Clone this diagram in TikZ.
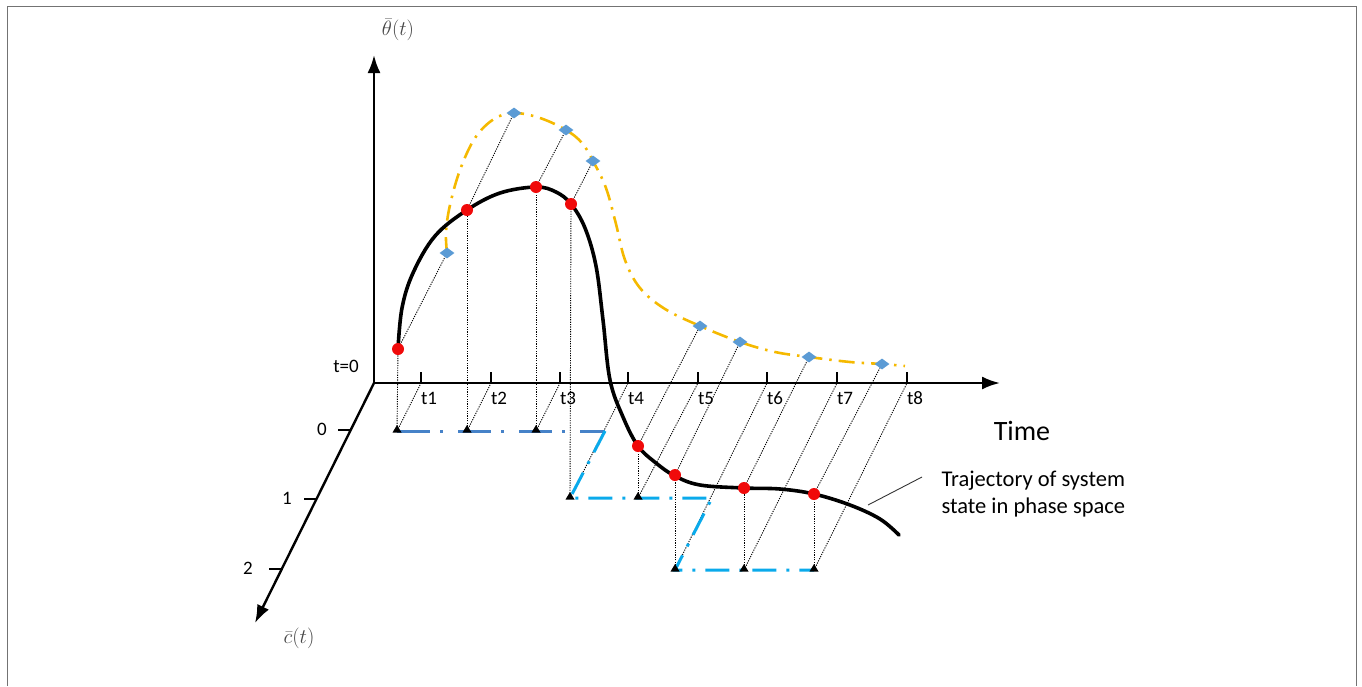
\documentclass[tikz,border=0pt]{standalone}
\usepackage{fontspec}
\setmainfont{Carlito}
\usetikzlibrary{arrows.meta,shapes.geometric}
\definecolor{dotred}{RGB}{240,10,10}
\definecolor{diablue}{RGB}{91,155,213}
\definecolor{lvlzero}{RGB}{70,130,200}
\definecolor{lvlcyan}{RGB}{10,170,235}
\definecolor{goldline}{RGB}{245,185,0}
\definecolor{labgray}{RGB}{70,70,70}
\begin{document}
\begin{tikzpicture}[x=1pt,y=-1pt,
  axisline/.style={line width=2.4pt,black,-{Latex[length=18pt,width=13pt]}},
  tickline/.style={line width=1.4pt,black},
  guide/.style={line width=0.9pt,black,dash pattern=on 1.2pt off 1.2pt},
  traj/.style={line width=3.6pt,black,line cap=round},
  proj/.style={line width=2.6pt,goldline,dash pattern=on 16pt off 7pt on 2.5pt off 7pt},
  stairzero/.style={line width=3pt,lvlzero,dash pattern=on 33pt off 10pt on 3pt off 15pt},
  staircyan/.style={line width=3pt,lvlcyan,dash pattern=on 24pt off 10pt on 3pt off 10pt},
  reddot/.style={circle,fill=dotred,inner sep=0pt,minimum size=12pt},
  bluedia/.style={diamond,fill=diablue,inner sep=0pt,minimum width=15pt,minimum height=11pt},
  ticklab/.style={font=\fontsize{19}{22}\selectfont},
  mathlab/.style={font=\fontsize{20}{23}\selectfont,text=labgray}]
\useasboundingbox (0,0) rectangle (1362,686);
% frame
\draw[line width=1pt,black!55] (7,686) -- (7,6) -- (1356,6) -- (1356,686);

% axes
\coordinate (O) at (374,383);
\coordinate (Ytip) at (374,55);
\coordinate (Xtip) at (1000,383);
\coordinate (Ztip) at (255,623);
\draw[axisline] (O) -- (Ytip);
\draw[axisline] (O) -- (Xtip);
\draw[axisline] (O) -- (Ztip);

\node[mathlab] (ylab) at (398,30) {$\bar{\theta}(t)$};
\node[mathlab] (zlab) at (299,638) {$\bar{c}(t)$};
\node[ticklab] (t0lab) at (346,366) {t=0};
\node[font=\fontsize{28}{32}\selectfont] (timelab) at (1022,431) {Time};

% time ticks
\foreach \i/\x in {1/421,2/491,3/560,4/628,5/698,6/767,7/837,8/907}{
  \coordinate (T\i) at (\x,383);
  \coordinate (TT\i) at (\x,372);
  \draw[tickline] (T\i) -- (TT\i);
  \node[ticklab] (tl\i) at (\x+8,398) {t\i};
}

% depth ticks
\coordinate (Z0a) at (338,430); \coordinate (Z0b) at (350,430);
\coordinate (Z1a) at (304,499); \coordinate (Z1b) at (316,499);
\coordinate (Z2a) at (269,569); \coordinate (Z2b) at (281,569);
\draw[tickline] (Z0a) -- (Z0b);
\draw[tickline] (Z1a) -- (Z1b);
\draw[tickline] (Z2a) -- (Z2b);
\node[ticklab] (zl0) at (322,429) {0};
\node[ticklab] (zl1) at (287,498) {1};
\node[ticklab] (zl2) at (248,568) {2};

% level points
\coordinate (L1) at (397,431);
\coordinate (L2) at (467,431);
\coordinate (L3) at (536,431);
\coordinate (L4) at (570,498);
\coordinate (L5) at (638,498);
\coordinate (L6) at (675,570);
\coordinate (L7) at (744,570);
\coordinate (L8) at (814,570);
\coordinate (K1) at (605,431);
\coordinate (K2) at (712,498);

% red points (trajectory) and blue diamonds (projection)
\coordinate (R1) at (398,349);
\coordinate (R2) at (467,210);
\coordinate (R3) at (536,187);
\coordinate (R4) at (571,204);
\coordinate (R5) at (638,446);
\coordinate (R6) at (675,475);
\coordinate (R7) at (744,488);
\coordinate (R8) at (814,494);
\coordinate (D1) at (447,253);
\coordinate (D2) at (514,113);
\coordinate (D3) at (566,130);
\coordinate (D4) at (593,161);
\coordinate (D5) at (700,326);
\coordinate (D6) at (740,342);
\coordinate (D7) at (809,357);
\coordinate (D8) at (882,364);

% guide lines
\foreach \i in {1,...,8}{
  \draw[guide] (L\i) -- (R\i);
  \draw[guide] (L\i) -- (T\i);
  \draw[guide] (R\i) -- (D\i);
}

% staircase in depth plane
\draw[stairzero] (L1) -- (K1);
\draw[staircyan] (K1) -- (L4) -- (K2) -- (L6) -- (L8);

% projection curve
\draw[proj] plot[smooth,tension=0.6] coordinates {(447,253) (446,232) (450,205) (460,170) (475,138) (494,119) (514,113) (540,118) (566,130) (582,143) (593,161) (606,188) (616,224) (625,260) (640,288) (665,309) (700,326) (740,342) (775,352) (809,357) (850,362) (882,364) (905,366)};

% trajectory
\draw[traj] plot[smooth,tension=0.6] coordinates {(398,349) (402,308) (413,273) (435,236) (467,210) (500,193) (536,187) (556,192) (571,204) (585,228) (596,266) (603,320) (610,380) (623,417) (638,446) (656,463) (675,476) (700,485) (744,488) (780,489) (814,494) (850,505) (880,519) (899,535)};

% markers
\foreach \i in {1,...,8}{
  \node[reddot] (r\i) at (R\i) {};
  \node[bluedia] (d\i) at (D\i) {};
  \fill[black] (L\i) ++(-4.5,1.5) -- ++(9,0) -- ++(-4.5,-7.5) -- cycle;
}

% pointer and annotation
\coordinate (P1) at (868,505);
\coordinate (P2) at (922,477);
\draw[line width=0.9pt,black!80] (P1) -- (P2);
\node[font=\fontsize{22.5}{27}\selectfont,align=left,anchor=west] (trajlab) at (938,494) {Trajectory of system\\state in phase space};
\end{tikzpicture}
\end{document}
